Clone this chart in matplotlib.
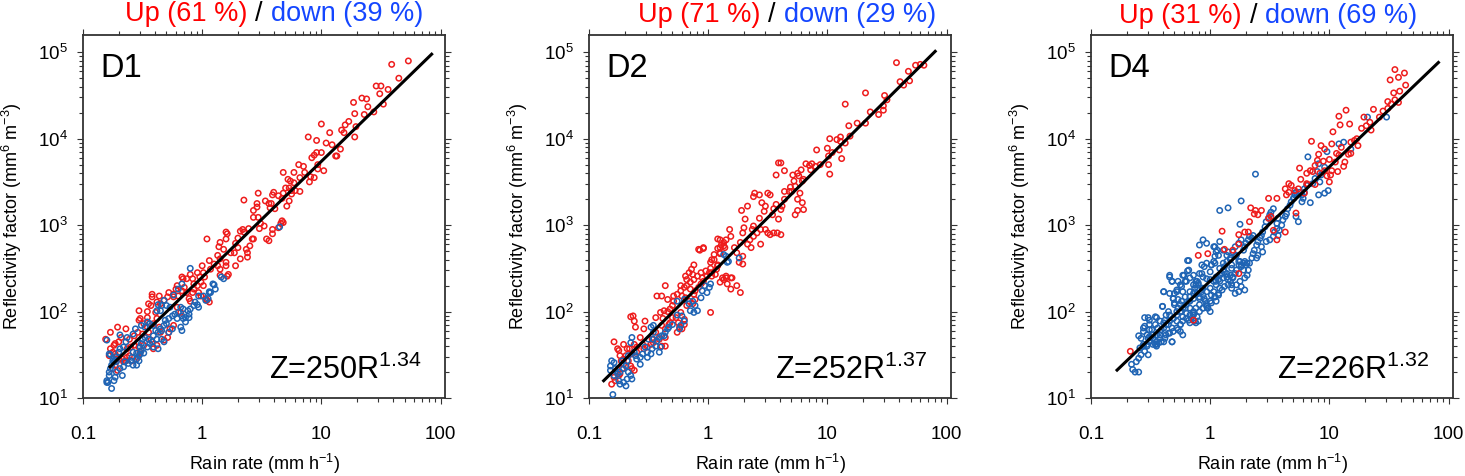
import numpy as np
import matplotlib
matplotlib.use("Agg")
import matplotlib.pyplot as plt
from matplotlib.ticker import FixedLocator, FixedFormatter, LogLocator, NullFormatter

plt.rcParams['font.family'] = ['Liberation Sans', 'DejaVu Sans']
plt.rcParams['mathtext.fontset'] = 'custom'
plt.rcParams['mathtext.rm'] = 'Liberation Sans'
plt.rcParams['mathtext.it'] = 'Liberation Sans:italic'
plt.rcParams['mathtext.bf'] = 'Liberation Sans:bold'
plt.rcParams['mathtext.default'] = 'regular'

# ---------------------------------------------------------------
# Data: pairs of (log10 R [mm/h], log10 Z [mm6 m-3])
# ---------------------------------------------------------------
d1_up = [
(1.73,4.90),(1.59,4.86),(1.65,4.70),(1.46,4.61),(1.50,4.61),(1.56,4.57),(1.49,4.52),(1.27,4.42),(1.34,4.47),(1.38,4.46),
(1.28,4.29),(1.39,4.37),(1.36,4.28),(1.52,4.40),(1.44,4.31),(1.00,4.17),(1.07,4.07),(1.23,4.20),(1.20,4.16),(1.17,4.10),
(1.19,4.07),(1.29,4.14),(1.28,4.02),(0.89,4.02),(0.96,3.98),(1.04,3.95),(1.09,3.93),(1.12,3.80),(1.13,3.80),(1.16,3.88),
(0.94,3.81),(0.96,3.84),(1.00,3.84),(0.92,3.78),(1.02,3.63),(0.97,3.70),(0.97,3.65),(0.81,3.70),(0.85,3.68),(0.86,3.61),
(0.77,3.61),(0.68,3.61),(0.72,3.53),(0.74,3.51),(0.77,3.49),(0.82,3.55),(0.91,3.56),(0.94,3.55),(0.90,3.50),(0.82,3.39),
(0.78,3.40),(0.75,3.40),(0.73,3.43),(0.75,3.36),(0.70,3.43),(0.73,3.28),(0.71,3.22),(0.60,3.38),(0.59,3.35),(0.47,3.37),
(0.53,3.28),(0.56,3.25),(0.58,3.25),(0.57,3.20),(0.61,3.19),(0.68,3.37),(0.64,3.34),(0.67,3.31),(0.67,3.05),(0.68,3.03),
(0.66,3.02),(0.64,2.97),(0.59,2.95),(0.59,2.90),(0.54,2.84),(0.56,2.82),(0.46,3.25),(0.46,3.21),(0.47,3.09),(0.35,3.29),
(0.43,3.17),(0.43,3.09),(0.52,2.99),(0.49,3.02),(0.48,2.96),(0.43,2.84),(0.39,2.96),(0.40,2.76),(0.37,2.72),(0.38,2.68),
(0.38,2.63),(0.42,2.84),(0.34,2.95),(0.35,2.92),(0.32,2.93),(0.30,2.85),(0.28,2.79),(0.30,2.74),(0.27,2.68),(0.28,2.53),
(0.32,2.61),(0.20,2.92),(0.21,2.90),(0.15,2.80),(0.14,2.75),(0.18,2.72),(0.13,2.65),(0.15,2.61),(0.15,2.49),(0.20,2.84),
(0.24,2.68),(0.20,2.57),(0.20,2.53),(0.21,2.41),(0.22,2.43),(0.15,2.42),(0.13,2.53),(0.10,2.55),(0.06,2.59),(0.04,2.84),
(0.07,2.49),(0.00,2.53),(0.01,2.45),(-0.01,2.34),(0.01,2.30),(0.02,2.40),(-0.02,2.40),(-0.04,2.30),(-0.07,2.32),(-0.08,2.22),
(-0.07,2.26),(-0.03,2.22),(-0.01,2.18),(0.03,2.15),(0.04,2.13),(0.06,2.11),(-0.04,2.45),(-0.10,2.43),(-0.08,2.38),(-0.16,2.38),
(-0.13,2.38),(-0.17,2.40),(-0.15,2.28),(-0.17,2.24),(-0.13,2.22),(-0.11,2.15),(-0.10,2.12),(-0.21,2.30),(-0.22,2.26),(-0.20,2.18),
(-0.24,2.20),(-0.24,2.17),(-0.28,2.22),(-0.29,2.17),(-0.32,2.13),(-0.21,2.05),(-0.18,1.99),(-0.35,2.09),(-0.36,2.18),(-0.38,2.11),
(-0.39,1.99),(-0.42,2.20),(-0.42,2.17),(-0.43,2.07),(-0.45,2.09),(-0.46,2.00),(-0.38,1.92),(-0.41,1.86),(-0.36,1.82),(-0.35,1.76),
(-0.46,1.82),(-0.45,1.76),(-0.49,1.86),(-0.50,1.74),(-0.53,1.90),(-0.54,1.76),(-0.57,1.72),(-0.54,1.65),(-0.53,1.59),(-0.57,1.61),
(-0.61,1.68),(-0.60,1.59),(-0.63,1.57),(-0.64,1.80),(-0.68,1.70),(-0.70,1.65),(-0.73,1.63),(-0.74,1.61),(-0.77,1.57),(-0.75,1.53),
(-0.70,1.45),(-0.73,1.51),(-0.67,1.45),(-0.64,1.43),(-0.63,1.47),(-0.61,1.49),(-0.66,1.42),(-0.59,1.43),(-0.54,1.47),(-0.52,1.53),
(-0.49,1.61),(-0.43,1.67),(-0.41,1.57),(-0.38,1.61),(-0.32,1.67),(-0.29,1.70),(-0.28,1.76),(-0.27,1.80),(-0.24,1.84),(-0.53,2.01),
(-0.52,1.92),(-0.46,1.93),(-0.71,1.82),(-0.77,1.76),(-0.81,1.68),(-0.78,1.49),(-0.73,1.38),(-0.75,1.34),(-0.71,1.32)]

d1_down = [
(-0.10,2.50),(-0.17,2.32),(-0.20,2.26),(0.09,2.32),(0.11,2.26),(0.16,2.40),(0.07,2.22),(0.01,2.18),(-0.06,2.11),(-0.04,2.08),
(-0.03,2.05),(-0.07,2.07),(-0.10,2.03),(-0.12,2.01),(-0.16,2.03),(-0.18,2.05),(-0.11,1.97),(-0.11,1.93),(-0.14,1.93),(-0.17,1.95),
(-0.20,1.99),(-0.23,1.97),(-0.25,1.95),(-0.28,1.92),(-0.31,1.90),(-0.32,1.84),(-0.34,1.78),(-0.35,1.80),(-0.37,1.76),(-0.39,1.78),
(-0.41,1.72),(-0.38,1.68),(-0.42,1.65),(-0.44,1.63),(-0.45,1.68),(-0.48,1.70),(-0.50,1.68),(-0.51,1.63),(-0.52,1.59),(-0.51,1.55),
(-0.49,1.52),(-0.52,1.51),(-0.53,1.49),(-0.55,1.52),(-0.58,1.53),(-0.59,1.47),(-0.60,1.43),(-0.62,1.40),(-0.58,1.38),(-0.55,1.45),
(-0.56,1.80),(-0.58,1.74),(-0.63,1.70),(-0.64,1.65),(-0.66,1.59),(-0.69,1.57),(-0.70,1.53),(-0.72,1.47),(-0.73,1.44),(-0.74,1.42),
(-0.76,1.38),(-0.77,1.34),(-0.78,1.30),(-0.78,1.26),(-0.80,1.20),(-0.80,1.18),(-0.79,1.18),(-0.76,1.11),(-0.74,1.20),(-0.73,1.24),
(-0.72,1.30),(-0.69,1.34),(-0.67,1.26),(-0.66,1.36),(-0.65,1.42),(-0.69,1.73),(-0.80,1.67),(-0.78,1.51),(-0.77,1.50),(-0.75,1.43),
(-0.72,1.42),(-0.55,1.38),(-0.53,1.43),(-0.46,1.59),(-0.41,1.59),(-0.37,1.57),(-0.34,1.68),(-0.32,1.65),(-0.28,1.76),(-0.25,1.80),
(-0.18,1.82),(-0.17,1.78),(-0.30,1.86),(-0.21,1.92),(-0.35,2.01),(-0.38,2.01),(-0.51,1.84),(-0.48,1.82),(-0.44,1.86),(-0.41,1.84),
(-0.27,2.05),(-0.30,2.07),(-0.34,2.07),(-0.37,2.08),(-0.32,2.13),(-0.03,2.18),(0.03,2.13),(0.05,2.15),(0.06,2.22),(-0.16,1.92),
(-0.14,1.88),(-0.46,1.88),(0.65,2.98),(0.18,2.38),(0.10,2.31),(0.06,2.23),(-0.24,2.19)]

d2_up = [
(1.58,4.88),(1.74,4.85),(1.78,4.86),(1.81,4.85),(1.68,4.78),(1.61,4.66),(1.69,4.67),(1.64,4.62),(1.32,4.53),(1.15,4.40),
(1.47,4.38),(1.43,4.28),(1.47,4.33),(1.50,4.45),(1.48,4.50),(1.36,4.31),(1.32,4.18),(1.25,4.18),(1.18,4.15),(1.11,4.02),
(1.11,3.97),(1.15,3.95),(1.08,3.99),(1.19,4.03),(1.00,3.89),(1.02,4.00),(1.10,3.87),(1.12,3.77),(1.01,3.80),(1.04,3.84),
(1.01,3.70),(1.02,3.59),(0.91,3.87),(0.90,3.68),(0.94,3.70),(0.87,3.71),(0.85,3.69),(0.82,3.71),(0.86,3.64),(0.78,3.64),
(0.75,3.60),(0.76,3.57),(0.80,3.53),(0.79,3.51),(0.71,3.58),(0.72,3.51),(0.73,3.45),(0.69,3.44),(0.77,3.37),(0.75,3.30),
(0.79,3.26),(0.80,3.18),(0.75,3.17),(0.73,3.12),(0.70,3.39),(0.61,3.72),(0.64,3.63),(0.59,3.72),(0.57,3.58),(0.64,3.39),
(0.68,3.39),(0.64,3.30),(0.62,3.22),(0.61,3.18),(0.59,3.07),(0.54,3.12),(0.52,3.35),(0.50,3.37),(0.57,3.24),(0.55,3.19),
(0.45,3.26),(0.48,3.22),(0.47,3.16),(0.43,3.08),(0.43,3.35),(0.38,3.33),(0.33,3.22),(0.39,3.37),(0.28,3.17),(0.31,3.07),
(0.48,2.95),(0.50,2.91),(0.55,2.91),(0.58,2.91),(0.61,2.89),(0.52,2.89),(0.44,2.95),(0.37,2.95),(0.38,2.99),(0.41,2.91),
(0.38,2.87),(0.35,2.83),(0.33,2.78),(0.29,2.91),(0.30,2.97),(0.27,2.80),(0.22,2.74),(0.24,2.68),(0.29,2.64),(0.26,2.57),
(0.29,2.55),(0.44,2.78),(0.36,2.74),(0.18,2.95),(0.19,2.87),(0.15,2.83),(0.10,2.83),(0.10,2.74),(0.13,2.76),(0.10,2.68),
(0.05,2.66),(0.05,2.60),(0.08,2.53),(0.03,2.45),(-0.08,2.72),(-0.04,2.74),(0.02,2.57),(0.24,2.30),(0.19,2.39),(0.15,2.39),
(0.13,2.37),(0.19,2.26),(0.02,1.99),
(-0.07,2.71),(-0.04,2.73),(0.08,2.73),(0.11,2.77),(0.10,2.67),(0.13,2.80),(0.08,2.84),(0.14,2.74),(0.03,2.60),(0.08,2.54),
(0.07,2.49),(0.02,2.50),(-0.12,2.54),(-0.14,2.49),(-0.13,2.43),(-0.16,2.45),(-0.19,2.41),(-0.18,2.37),(-0.15,2.34),(-0.12,2.37),
(-0.09,2.41),(-0.06,2.45),(-0.05,2.39),(-0.02,2.47),(0.01,2.45),(0.03,2.41),(0.06,2.43),(-0.04,2.35),(-0.06,2.32),(-0.08,2.28),
(-0.11,2.24),(-0.12,2.20),(-0.15,2.26),(-0.18,2.30),(-0.20,2.28),(-0.23,2.30),(-0.23,2.24),(-0.22,2.18),(-0.19,2.16),(-0.16,2.12),
(-0.13,2.09),(-0.11,2.14),(-0.18,2.07),(-0.26,2.20),(-0.29,2.18),(-0.29,2.12),(-0.30,2.07),(-0.32,2.03),(-0.34,2.14),(-0.36,2.30),
(-0.39,2.18),(-0.43,2.18),(-0.34,2.00),(-0.37,2.01),(-0.40,1.99),(-0.38,1.92),(-0.39,1.84),(-0.36,1.80),(-0.33,1.85),(-0.27,1.93),
(-0.23,1.99),(-0.25,1.87),(-0.24,1.82),(-0.20,1.91),(-0.20,1.85),(-0.30,1.93),(-0.32,1.87),(-0.26,1.76),(-0.22,1.80),(-0.44,1.93),
(-0.54,1.80),(-0.53,1.89),(-0.61,1.82),(-0.62,1.89),(-0.65,1.94),(-0.63,1.95),(-0.57,1.70),(-0.55,1.62),(-0.60,1.59),(-0.62,1.62),
(-0.66,1.57),(-0.68,1.57),(-0.71,1.62),(-0.69,1.49),(-0.71,1.45),(-0.64,1.51),(-0.60,1.53),(-0.54,1.57),(-0.51,1.59),(-0.48,1.62),
(-0.46,1.64),(-0.41,1.68),(-0.39,1.60),(-0.36,1.60),(-0.36,1.70),(-0.44,1.76),(-0.47,1.68),(-0.79,1.65),(-0.76,1.57),(-0.75,1.55),
(-0.74,1.49),(-0.73,1.43),(-0.71,1.39),(-0.67,1.43),(-0.65,1.37),(-0.64,1.34),(-0.62,1.32),(-0.72,1.34),(-0.75,1.26),(-0.79,1.24),
(-0.81,1.16),(-0.74,1.28),(-0.78,1.20),(-0.01,2.41),(0.27,2.22),(0.20,2.39),(0.12,2.39),(0.10,2.34),(0.15,2.41),(0.16,2.32)]

d2_down = [
(-0.26,2.12),(-0.20,2.14),(-0.16,2.09),(-0.13,2.12),(-0.11,2.07),(-0.09,2.01),(-0.12,1.99),(-0.15,2.01),(-0.05,2.24),(-0.06,2.16),
(-0.03,2.30),(0.02,2.32),(0.01,2.28),(-0.01,2.22),(0.16,2.57),(0.15,2.64),(0.13,2.66),(-0.20,1.89),(-0.22,1.95),(-0.26,1.96),
(-0.23,1.84),(-0.24,1.80),(-0.30,1.85),(-0.33,1.82),(-0.34,1.80),(-0.36,1.76),(-0.37,1.72),(-0.39,1.72),(-0.41,1.70),(-0.43,1.66),
(-0.46,1.84),(-0.46,1.76),(-0.48,1.82),(-0.44,1.60),(-0.41,1.53),(-0.40,1.59),(-0.47,1.57),(-0.48,1.51),(-0.51,1.53),(-0.51,1.47),
(-0.53,1.59),(-0.55,1.51),(-0.57,1.47),(-0.57,1.39),(-0.60,1.45),(-0.61,1.49),(-0.62,1.53),(-0.64,1.70),(-0.65,1.64),(-0.67,1.49),
(-0.68,1.43),(-0.69,1.37),(-0.71,1.34),(-0.74,1.30),(-0.76,1.28),(-0.78,1.34),(-0.79,1.41),(-0.81,1.43),(-0.82,1.37),(-0.82,1.32),
(-0.79,1.26),(-0.75,1.20),(-0.71,1.18),(-0.68,1.22),(-0.65,1.26),(-0.64,1.22),(-0.67,1.30),(-0.69,1.14),(-0.74,1.16),(-0.80,1.04),
(-0.72,1.43),(-0.46,1.68),(-0.50,1.68),(0.17,2.58),(0.26,2.62)]

d4_up = [
(1.55,4.80),(1.63,4.76),(1.58,4.71),(1.51,4.68),(1.54,4.53),(1.64,4.62),(1.59,4.55),(1.58,4.42),(1.55,4.45),(1.49,4.43),
(1.52,4.40),(1.49,4.35),(1.45,4.32),(1.42,4.25),(1.37,4.34),(1.29,4.25),(1.27,4.12),(1.31,4.15),(1.35,4.10),(1.34,4.19),
(1.23,4.00),(1.21,3.98),(1.24,3.92),(1.17,4.17),(1.14,4.33),(1.08,4.26),(1.09,4.16),(1.03,4.08),(1.02,3.94),(1.06,3.83),
(0.96,3.88),(0.91,3.82),(0.93,3.92),(0.85,3.97),(1.00,3.76),(1.02,3.63),(0.95,3.74),(0.96,3.63),(1.01,3.58),(1.07,3.62),
(1.12,3.68),(1.08,3.81),(1.16,3.82),(1.18,3.83),(0.90,3.75),(0.88,3.69),(0.86,3.62),(0.81,3.60),(0.75,3.66),(0.76,3.53),
(0.74,3.42),(0.81,3.48),(0.84,3.63),(0.92,3.60),(0.88,3.47),(0.82,3.47),(0.79,3.37),(0.71,3.40),(0.68,3.46),(0.63,3.42),
(0.66,3.38),(0.64,3.35),(0.56,3.31),(0.49,3.31),(0.38,3.17),(0.34,3.20),(0.37,3.13),(0.32,2.92),(0.29,2.92),(0.24,2.78),
(0.19,2.71),(0.12,2.72),(-0.02,2.67),(0.10,2.93),(-0.10,2.65),(0.24,2.44),(0.33,3.04),(0.51,3.10),(0.43,3.17),(0.40,3.12),
(0.49,3.08),(0.56,2.83),(0.53,2.94),(0.66,3.48),(-0.67,1.54),(1.18,3.96),(1.10,3.90),(1.13,3.73),(1.05,3.73),(0.98,3.57),
(1.00,3.50),(0.24,2.89),(0.72,3.14),(0.63,2.92),(-0.14,1.90)]

d4_down = [
(-0.66,1.39),(-0.65,1.33),(-0.63,1.30),(-0.60,1.30),(-0.62,1.42),(-0.60,1.46),(-0.58,1.50),(-0.59,1.58),(-0.56,1.62),(-0.55,1.54),
(-0.53,1.60),(-0.52,1.50),(-0.60,1.72),(-0.56,1.81),(-0.55,1.93),(-0.52,1.93),(-0.51,1.85),(-0.49,1.79),(-0.48,1.73),(-0.46,1.67),
(-0.45,1.62),(-0.43,1.64),(-0.41,1.65),(-0.38,1.69),(-0.35,1.75),(-0.32,1.65),(-0.42,1.73),(-0.45,1.93),(-0.46,1.85),(-0.44,1.81),
(-0.41,1.79),(-0.39,1.87),(-0.38,1.90),(-0.37,1.96),(-0.35,2.00),(-0.40,2.06),(-0.39,2.23),(-0.34,2.40),(-0.32,2.35),(-0.31,2.15),
(-0.30,2.21),(-0.28,2.25),(-0.27,2.14),(-0.25,2.08),(-0.24,2.00),(-0.23,1.94),(-0.21,2.04),(-0.20,1.98),(-0.18,1.90),(-0.17,1.87),
(-0.16,1.92),(-0.14,1.96),(-0.13,1.89),(-0.12,1.87),(-0.18,2.12),(-0.17,2.17),(-0.14,2.21),(-0.13,2.27),(-0.12,2.31),(-0.11,2.21),
(-0.09,2.17),(-0.07,2.23),(-0.06,2.27),(-0.05,2.15),(-0.03,2.08),(-0.02,2.04),(0.00,2.12),(0.01,2.19),(0.03,2.23),(0.04,2.17),
(0.05,2.12),(0.07,2.19),(0.08,2.27),(-0.23,2.23),(-0.21,2.35),(-0.22,2.42),(-0.19,2.59),(-0.19,2.47),(-0.12,2.35),(-0.10,2.33),
(-0.07,2.44),(-0.05,2.52),(-0.03,2.56),(0.00,2.46),(0.01,2.54),(0.03,2.58),(0.04,2.64),(0.05,2.69),(0.04,2.75),(0.08,2.81),
(0.11,2.56),(0.12,2.46),(0.14,2.40),(0.15,2.37),(0.17,2.35),(0.18,2.31),(0.19,2.40),(0.21,2.44),(0.22,2.48),(0.24,2.54),
(0.25,2.58),(0.26,2.52),(0.28,2.56),(0.29,2.58),(0.30,2.54),(0.32,2.48),(0.33,2.56),(0.35,2.62),(0.36,2.67),(0.37,2.71),
(0.39,2.77),(0.40,2.81),(0.42,2.85),(0.43,2.88),(0.44,2.92),(0.46,2.98),(0.47,3.04),(0.49,3.08),(0.50,3.12),(0.51,3.15),
(0.53,3.19),(0.54,2.92),(0.56,2.96),(0.57,2.88),(0.58,2.94),(0.60,3.00),(0.61,3.06),(0.63,3.10),(0.64,3.13),(0.65,3.19),
(0.67,3.23),(0.68,3.27),(0.70,3.31),(0.71,3.35),(0.72,3.38),(0.74,3.04),(0.72,3.10),(0.77,3.27),(0.78,3.31),(0.79,3.38),
(0.81,3.46),(0.28,2.71),(0.29,2.75),(0.30,2.79),(0.32,2.83),(0.33,2.87),(0.35,2.85),(0.36,2.88),(0.26,2.83),(0.24,2.79),
(0.21,2.75),(0.19,2.69),(0.22,2.65),(0.17,2.62),(0.18,2.54),(0.14,2.58),(0.11,2.48),(0.08,2.42),(0.07,2.37),(0.05,2.35),
(0.47,2.81),(0.50,2.83),(0.53,2.87),(0.56,3.02),(0.57,3.08),(0.43,2.75),(0.44,2.69),(0.40,2.65),(0.39,2.62),(0.08,3.17),
(0.15,3.20),(0.26,3.28),(0.25,3.01),(-0.06,2.83),(-0.03,2.79),(-0.09,2.77),(-0.18,2.59),(-0.27,2.35),(-0.24,2.29),(-0.30,2.08),
(-0.28,2.00),(-0.34,1.96),(-0.31,1.92),(-0.28,1.89),(-0.25,1.85),(-0.27,1.79),(-0.35,1.85),(-0.51,1.71),(-0.53,1.73),(-0.58,1.69),
(-0.48,1.62),(-0.45,1.60),(-0.39,1.65),(-0.32,1.81),(-0.12,2.04),(-0.09,2.08),(-0.06,2.04),(-0.03,2.06),(0.00,2.00),(-0.14,1.98),
(-0.17,2.04),
(1.08,3.94),(1.12,3.96),(1.18,3.88),(1.48,4.25),(1.32,4.25),(0.98,3.85),(0.91,3.71),(0.82,3.79),(0.90,3.62),(0.93,3.58),
(0.99,3.40),(0.96,3.37),(0.92,3.50),(0.86,3.48),(0.84,3.26),(0.79,3.42),(0.75,3.38),(0.77,3.35),(0.71,3.37),(0.70,3.31),
(0.91,3.35),(0.96,3.67),(0.88,3.54),(0.38,3.59),
(0.03,2.75),(0.06,2.71),(0.11,2.71),(0.14,2.65),(0.17,2.60),(0.21,2.64),(0.24,2.58),(0.26,2.54),(0.28,2.48),(0.31,2.56),
(0.29,2.39),(0.25,2.35),(0.22,2.31),(0.19,2.39),(0.17,2.42),(0.14,2.44),(0.11,2.39),(0.08,2.35),(0.05,2.31),(0.03,2.35),
(0.01,2.54),(0.04,2.56),(0.08,2.50),(0.10,2.44),(0.00,2.27),(-0.03,2.23),(-0.06,2.19),(-0.07,2.27),(-0.10,2.31),(-0.13,2.23),
(-0.14,2.15),(-0.17,2.12),(-0.20,2.08),(-0.23,2.04),(-0.25,2.00),(-0.28,1.96),(-0.31,1.92),(-0.34,1.89),(-0.37,1.85),(-0.39,1.81),
(-0.42,1.77),(-0.45,1.73),(-0.48,1.69),(-0.51,1.65),(-0.53,1.62),(-0.56,1.60),(-0.07,2.54),(-0.23,2.42),(-0.18,2.48),(-0.34,2.42),
(-0.32,2.35),(-0.39,2.23),(-0.40,2.06),(-0.30,2.10),(-0.27,2.04),(-0.24,2.12),(-0.21,2.17),(-0.17,2.23),(-0.14,2.31),(-0.11,2.35),
(-0.09,2.15),(-0.04,2.12),(-0.02,2.04),(0.01,2.10),(0.04,2.17),(0.07,2.21),(0.10,2.25),(0.12,2.29),(0.15,2.31),(0.18,2.27),
(0.21,2.21),(0.24,2.23),(0.26,2.29),(0.29,2.25),(0.31,2.42),(-0.03,2.38),(0.00,2.37),(-0.06,2.40),(-0.09,2.44),(-0.14,2.00),
(-0.11,1.94),(-0.10,1.89),(-0.17,1.96),(-0.20,1.92),(-0.23,1.89),(-0.25,1.85),(-0.28,1.81),(-0.31,1.77),(-0.34,1.75),(-0.37,1.73),
(-0.42,1.69),(-0.45,1.65),(-0.46,1.62),(-0.51,1.79),(-0.55,1.83),(-0.56,1.77),(-0.52,1.69),(-0.25,1.77),(-0.23,1.73),(-0.32,1.65),
(-0.42,1.89),(-0.46,1.94),(-0.51,1.90),(-0.06,2.04),(-0.09,2.00),(-0.31,2.15),(-0.34,2.21),(-0.28,2.23),(-0.25,2.31),(-0.20,2.35),
(-0.17,2.39),(-0.14,2.42),(0.05,2.40),(0.12,2.52),(0.18,2.50),(0.07,2.65),(0.15,2.69)]

panel_names = ['D1', 'D2', 'D4']
up_pct = [61, 71, 31]
down_pct = [39, 29, 69]
fit_a = [250, 252, 226]
fit_b = [1.34, 1.37, 1.32]
fit_range = [(0.165, 86.0), (0.13, 82.0), (0.162, 84.0)]
up_sets = [d1_up, d2_up, d4_up]
down_sets = [d1_down, d2_down, d4_down]

x_ticks = [0.1, 1, 10, 100]
x_ticklabels = ['0.1', '1', '10', '100']
y_ticks = [1e1, 1e2, 1e3, 1e4, 1e5]
y_ticklabels = [r'$10^{1}$', r'$10^{2}$', r'$10^{3}$', r'$10^{4}$', r'$10^{5}$']

RED = '#ee1c1c'
BLUE = '#1f64b4'
TITLE_RED = '#ff0000'
TITLE_BLUE = '#1446ff'
SPINE = '#333333'

W, H = 1465, 476
fig = plt.figure(figsize=(W / 100, H / 100), dpi=100)

ax_left_px = [83, 589, 1091]
ax_w_px, ax_top_px, ax_bot_px = 362, 35, 398
title_center = [0.528, 0.546, 0.490]
title_base_px = [20.7, 21.7, 23.3]


def unpack(pairs):
    a = np.array(pairs, dtype=float)
    return 10 ** a[:, 0], 10 ** a[:, 1]


MS, MLW = 15, 1.1
axes = []
for i in range(3):
    ax = fig.add_axes([ax_left_px[i] / W, (H - ax_bot_px) / H,
                       ax_w_px / W, (ax_bot_px - ax_top_px) / H])
    axes.append(ax)
    ax.set_xscale('log')
    ax.set_yscale('log')

    ru, zu = unpack(up_sets[i])
    rd, zd = unpack(down_sets[i])
    if i < 2:
        ax.scatter(ru, zu, s=MS, facecolors='none', edgecolors=RED, linewidths=MLW, zorder=2)
        ax.scatter(rd, zd, s=MS, facecolors='none', edgecolors=BLUE, linewidths=MLW, zorder=3)
    else:
        ax.scatter(rd, zd, s=MS, facecolors='none', edgecolors=BLUE, linewidths=MLW, zorder=2)
        ax.scatter(ru, zu, s=MS, facecolors='none', edgecolors=RED, linewidths=MLW, zorder=3)

    rf = np.logspace(np.log10(fit_range[i][0]), np.log10(fit_range[i][1]), 60)
    ax.plot(rf, fit_a[i] * rf ** fit_b[i], color='black', lw=2.2, zorder=5,
            solid_capstyle='butt')

    ax.set_xlim(0.1, 109)
    ax.set_ylim(10, 10 ** 5.2)

    ax.xaxis.set_major_locator(FixedLocator(x_ticks))
    ax.xaxis.set_major_formatter(FixedFormatter(x_ticklabels))
    ax.yaxis.set_major_locator(FixedLocator(y_ticks))
    ax.yaxis.set_major_formatter(FixedFormatter(y_ticklabels))
    ax.xaxis.set_minor_locator(LogLocator(base=10, subs=np.arange(2, 10), numticks=20))
    ax.yaxis.set_minor_locator(LogLocator(base=10, subs=np.arange(2, 10), numticks=20))
    ax.xaxis.set_minor_formatter(NullFormatter())
    ax.yaxis.set_minor_formatter(NullFormatter())

    ax.tick_params(which='both', direction='out', top=True, right=True,
                   labeltop=False, labelright=False, color=SPINE, width=0.8)
    ax.tick_params(which='major', length=4.3)
    ax.tick_params(which='minor', length=3.0)
    ax.tick_params(axis='x', which='major', pad=16, labelsize=13.5)
    ax.tick_params(axis='y', which='major', pad=6.5, labelsize=13.5)
    for sp in ax.spines.values():
        sp.set_color(SPINE)
        sp.set_linewidth(1.3)

    ax.set_xlabel(r'Rain rate (mm h$^{-1}$)', fontsize=13, labelpad=6)
    ax.set_ylabel(r'Reflectivity factor (mm$^{6}$ m$^{-3}$)', fontsize=13, labelpad=10)

    ax.text(0.047, 0.884, panel_names[i], transform=ax.transAxes,
            fontsize=23.5, ha='left', va='baseline')
    ax.text(0.934, 0.052, r'Z=%dR$^{%.2f}$' % (fit_a[i], fit_b[i]),
            transform=ax.transAxes, fontsize=22, ha='right', va='baseline')

# coloured titles
renderer = fig.canvas.get_renderer()
for i, ax in enumerate(axes):
    parts = [('Up (%d %%)' % up_pct[i], TITLE_RED), ('/', 'black'),
             ('down (%d %%)' % down_pct[i], TITLE_BLUE)]
    fs = 19.5
    texts = [fig.text(0, 0, s, color=c, fontsize=fs, ha='left', va='baseline')
             for s, c in parts]
    widths = [t.get_window_extent(renderer).width for t in texts]
    gap = 0.30 * fs * 100 / 72
    total = sum(widths) + gap * (len(texts) - 1)
    pos = ax.get_position()
    cx = (pos.x0 + title_center[i] * pos.width) * W
    x = cx - total / 2
    yb = 1 - title_base_px[i] / H
    for t, w in zip(texts, widths):
        t.set_position((x / W, yb))
        x += w + gap

fig.savefig('out.png', dpi=100)
